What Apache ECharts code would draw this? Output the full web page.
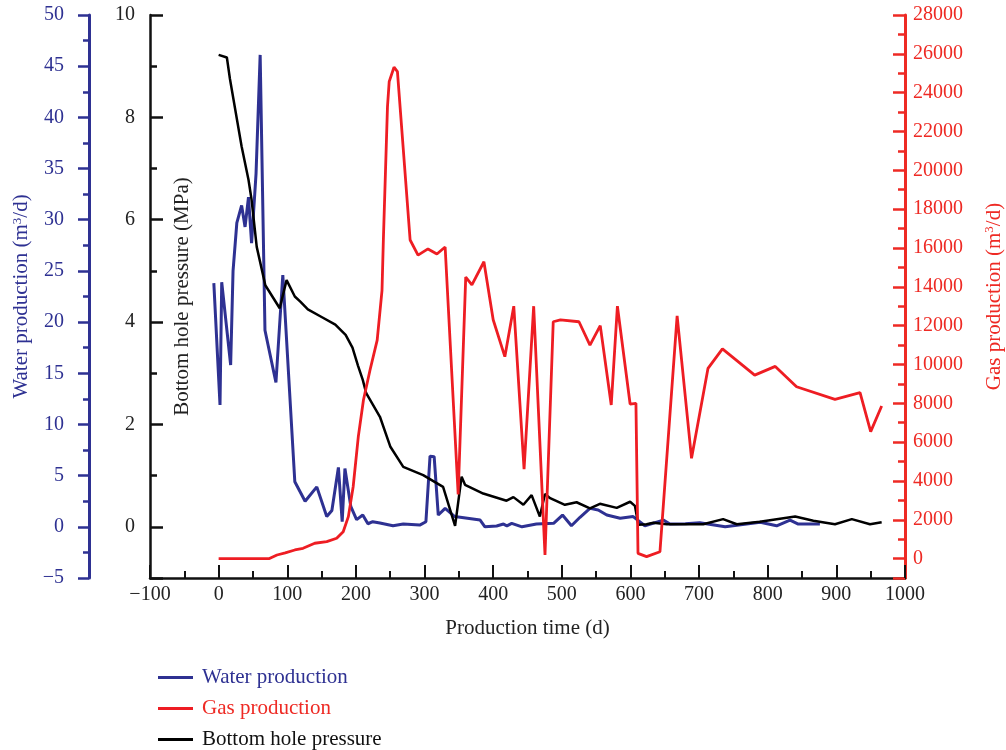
<!DOCTYPE html>
<html>
<head>
<meta charset="utf-8">
<script src="https://cdn.jsdelivr.net/npm/echarts@6/dist/echarts.min.js"></script>
<style>
	html, body { margin: 0; padding: 0; background: #fff; }
	#chart { width: 1006px; height: 750px; }
</style>
</head>
<body>
<div id="chart"></div>
<script>
	'use strict';

	/* data */
	var waterDays = [-7, 2, 4.5, 17.5, 21, 26.5, 33.5, 38.5, 43.5, 48, 54.5, 60.5, 67.5, 83.5, 93.5, 111, 126, 143, 157.5, 165, 174.5, 180, 184, 192.5, 201, 210, 217.5, 224.5, 235, 254, 269, 293, 302, 308, 314, 320, 330, 344, 381, 388, 405, 415, 420, 427, 442, 463, 488, 501, 514, 526.5, 541, 553, 565.5, 585, 604, 621, 648, 657.5, 680, 701, 738, 789, 813, 832.5, 844.5, 876];
	var waterValues = [23.8, 11.9, 23.9, 15.8, 25, 29.7, 31.4, 29.3, 32.2, 27.7, 34.5, 46.1, 19.2, 14.1, 24.6, 4.4, 2.5, 3.9, 1.0, 1.6, 5.8, 0.5, 5.7, 2.0, 0.7, 1.15, 0.3, 0.5, 0.37, 0.1, 0.27, 0.17, 0.5, 6.9, 6.85, 1.15, 1.8, 1.0, 0.66, 0.0, 0.08, 0.27, 0.1, 0.34, 0.0, 0.27, 0.34, 1.15, 0.1, 0.93, 1.8, 1.64, 1.15, 0.83, 1.0, 0.1, 0.66, 0.27, 0.3, 0.4, 0.0, 0.44, 0.1, 0.66, 0.27, 0.27];

	var pressureDays = [0, 12, 16.5, 33.5, 43.5, 48, 55.5, 68, 89, 99, 111, 119, 130, 150, 170, 185, 195, 203, 210, 215, 235, 250, 269, 298, 327, 344.5, 354, 359, 385.5, 419.5, 429.5, 444, 456, 468, 475.5, 483, 504.5, 521.5, 541, 555.5, 580, 599.5, 606.5, 611.5, 623.5, 633.5, 653, 706, 735, 755, 788.5, 840, 866.5, 898, 922.5, 949, 966];
	var pressureValues = [9.22, 9.17, 8.75, 7.43, 6.78, 6.39, 5.47, 4.72, 4.27, 4.82, 4.5, 4.4, 4.25, 4.1, 3.95, 3.75, 3.5, 3.15, 2.87, 2.61, 2.15, 1.57, 1.17, 1.01, 0.78, 0.02, 0.98, 0.82, 0.65, 0.51, 0.58, 0.43, 0.62, 0.2, 0.64, 0.56, 0.43, 0.48, 0.36, 0.45, 0.37, 0.49, 0.41, 0.04, 0.05, 0.08, 0.05, 0.05, 0.15, 0.05, 0.1, 0.2, 0.12, 0.05, 0.15, 0.05, 0.09];

	var gasDays = [0, 74, 85, 97, 111, 123, 140, 157.5, 172, 181.5, 189, 196, 203.5, 211, 220.5, 231, 238, 240, 246, 248.5, 255.5, 260.5, 279, 290.5, 305, 318, 330, 349, 360, 369, 386.5, 400, 417, 430, 445, 459, 475.5, 487.5, 498, 525, 541, 556, 572, 581, 599.5, 608, 611, 623.5, 643, 668, 689, 713, 734, 781, 811, 842, 898, 934.5, 950, 966];
	var gasValues = [0, 0, 185, 290, 443, 530, 790, 870, 1045, 1385, 2160, 3700, 6280, 8170, 9700, 11250, 13800, 16410, 23280, 24570, 25310, 25080, 16410, 15630, 15950, 15690, 16050, 3300, 14500, 14100, 15290, 12300, 10400, 13000, 4600, 13000, 185, 12200, 12300, 12200, 11000, 12000, 7910, 13000, 7960, 8000, 270, 100, 355, 12500, 5165, 9800, 10800, 9450, 9900, 8850, 8200, 8545, 6540, 7860];

	var seriesNames = ['Water production', 'Gas production', 'Bottom hole pressure'];

	var font = 'Liberation Serif';
	var blue = '#2e3192';
	var red = '#ee2a24';
	var black = '#111';

	function pairs(xs, ys) {
		var out = [];
		for (var i = 0; i < xs.length; i++) out.push([xs[i], ys[i]]);
		return out;
	}
	function minus(v) {
		return v < 0 ? '\u2212' + (-v) : String(v);
	}
	/* one legend per row, so rows sit exactly where the figure has them */
	function legendRow(name, color, top) {
		return {
			left: 153,
			top: top,
			icon: 'rect',
			itemWidth: 35,
			itemHeight: 3,
			textStyle: { color: color, fontFamily: font, fontSize: 21, padding: [0, 0, 0, 4] },
			data: [name]
		};
	}

	var option = {
		animation: false,
		backgroundColor: '#fff',
		grid: {
			top: 15,
			bottom: 172,
			left: 150,
			right: 101,
			outerBoundsMode: 'none'
		},
		legend: [
			legendRow(seriesNames[0], blue, 662),
			legendRow(seriesNames[1], red, 693),
			legendRow(seriesNames[2], black, 724)
		],
		xAxis: {
			type: 'value',
			min: -100,
			max: 1000,
			interval: 100,
			splitLine: { show: false },
			axisLine: { onZero: false, lineStyle: { color: black, width: 2.5 } },
			axisTick: { inside: true, length: 13, lineStyle: { color: black, width: 2 } },
			minorTick: { show: true, splitNumber: 2, length: 7, lineStyle: { color: black, width: 2 } },
			axisLabel: { color: '#222', fontFamily: font, fontSize: 20, margin: 7, showMinLabel: true, showMaxLabel: true, formatter: minus },
			name: 'Production time (d)',
			nameLocation: 'middle',
			nameGap: 50,
			nameTextStyle: { color: '#222', fontFamily: font, fontSize: 21, verticalAlign: 'middle' }
		},
		yAxis: [
			{
				/* water */
				type: 'value',
				position: 'left',
				offset: 61,
				min: -5,
				max: 50,
				interval: 5,
				splitLine: { show: false },
				axisLine: { show: true, onZero: false, lineStyle: { color: blue, width: 3 } },
				axisTick: { show: true, length: 11, lineStyle: { color: blue, width: 2.5 } },
				minorTick: { show: true, splitNumber: 2, length: 6, lineStyle: { color: blue, width: 2.5 } },
				axisLabel: { color: blue, fontFamily: font, fontSize: 20, margin: 25, formatter: minus },
				name: 'Water production (m{sup|3}/d)',
				nameLocation: 'middle',
				nameRotate: 90,
				nameGap: 67,
				nameTextStyle: {
					color: blue, fontFamily: font, fontSize: 21, verticalAlign: 'middle',
					rich: { sup: { fontSize: 13, verticalAlign: 'top', color: blue, fontFamily: font, padding: [0, 0, 8, 0] } }
				}
			},
			{
				/* pressure, minor ticks + line */
				type: 'value',
				position: 'left',
				offset: 0,
				min: -1,
				max: 10,
				interval: 1,
				splitLine: { show: false },
				axisLine: { show: true, onZero: false, lineStyle: { color: black, width: 2.5 } },
				axisTick: { show: true, inside: true, length: 7, lineStyle: { color: black, width: 2.5 } },
				axisLabel: { show: false },
				name: 'Bottom hole pressure (MPa)',
				nameLocation: 'middle',
				nameRotate: 90,
				nameGap: -32,
				nameTextStyle: { color: '#222', fontFamily: font, fontSize: 21, verticalAlign: 'middle' }
			},
			{
				/* pressure, major ticks + labels */
				type: 'value',
				position: 'left',
				offset: 0,
				inverse: true,
				min: 0,
				max: 11,
				interval: 2,
				splitLine: { show: false },
				axisLine: { show: false, onZero: false },
				axisTick: { show: true, inside: true, length: 13, lineStyle: { color: black, width: 2.5 } },
				axisLabel: {
					color: '#222', fontFamily: font, fontSize: 20, margin: 15,
					formatter: function (v) { return v <= 10 ? String(10 - v) : ''; }
				}
			},
			{
				/* gas, minor ticks + line */
				type: 'value',
				position: 'right',
				offset: 0,
				min: -1000,
				max: 28000,
				interval: 1000,
				splitLine: { show: false },
				axisLine: { show: true, onZero: false, lineStyle: { color: red, width: 3 } },
				axisTick: { show: true, inside: true, length: 7, lineStyle: { color: red, width: 2.5 } },
				axisLabel: { show: false },
				name: 'Gas production (m{sup|3}/d)',
				nameLocation: 'middle',
				nameRotate: 90,
				nameGap: 89,
				nameTextStyle: {
					color: red, fontFamily: font, fontSize: 21, verticalAlign: 'middle',
					rich: { sup: { fontSize: 13, verticalAlign: 'top', color: red, fontFamily: font, padding: [0, 0, 8, 0] } }
				}
			},
			{
				/* gas, major ticks + labels */
				type: 'value',
				position: 'right',
				offset: 0,
				inverse: true,
				min: 0,
				max: 29000,
				interval: 2000,
				splitLine: { show: false },
				axisLine: { show: false, onZero: false },
				axisTick: { show: true, inside: true, length: 12, lineStyle: { color: red, width: 2.5 } },
				axisLabel: {
					color: red, fontFamily: font, fontSize: 20, margin: 8,
					formatter: function (v) { return v <= 28000 ? String(28000 - v) : ''; }
				}
			}
		],
		series: [
			{
				name: seriesNames[0],
				type: 'line',
				yAxisIndex: 0,
				symbol: 'none',
				color: blue,
				lineStyle: { width: 3 },
				data: pairs(waterDays, waterValues)
			},
			{
				name: seriesNames[2],
				type: 'line',
				yAxisIndex: 1,
				symbol: 'none',
				color: '#000',
				lineStyle: { width: 2.5 },
				data: pairs(pressureDays, pressureValues)
			},
			{
				name: seriesNames[1],
				type: 'line',
				yAxisIndex: 3,
				symbol: 'none',
				color: '#ee1d23',
				lineStyle: { width: 2.8 },
				data: pairs(gasDays, gasValues)
			}
		]
	};

	var chart = echarts.init(document.getElementById('chart'));
	chart.setOption(option);
</script>
</body>
</html>
